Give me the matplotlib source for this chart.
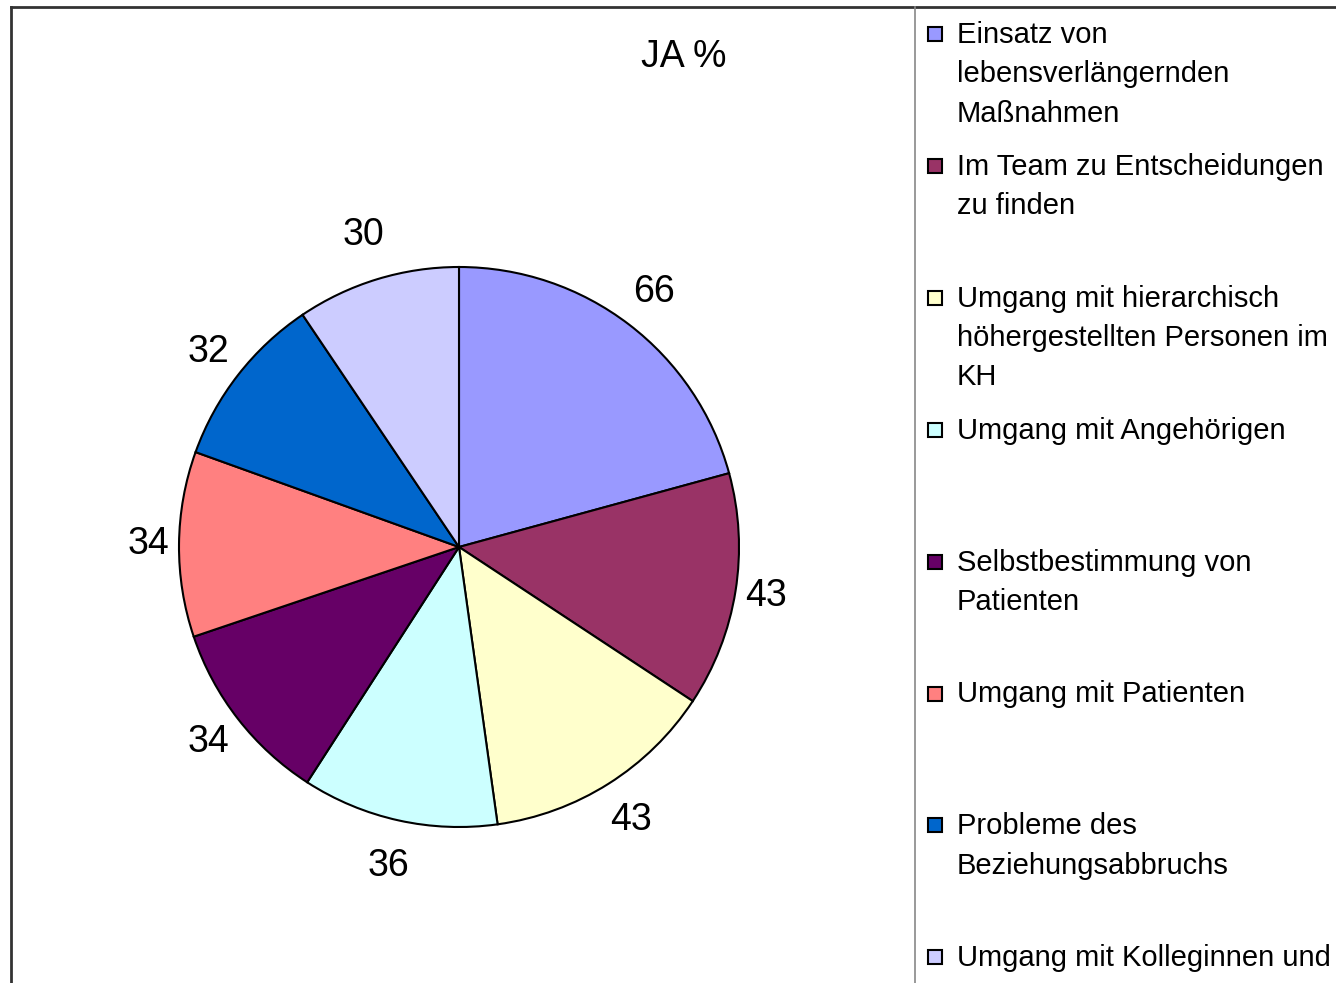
import numpy as np
import matplotlib.pyplot as plt
from matplotlib.patches import Rectangle
from matplotlib.lines import Line2D

plt.rcParams['font.family'] = ['Liberation Sans', 'DejaVu Sans']

# ---------------------------------------------------------------------
# Data
# ---------------------------------------------------------------------
categories = [
    "Einsatz von\nlebensverlängernden\nMaßnahmen",
    "Im Team zu Entscheidungen\nzu finden",
    "Umgang mit hierarchisch\nhöhergestellten Personen im\nKH",
    "Umgang mit Angehörigen",
    "Selbstbestimmung von\nPatienten",
    "Umgang mit Patienten",
    "Probleme des\nBeziehungsabbruchs",
    "Umgang mit Kolleginnen und\nKollegen",
]
values = [66, 43, 43, 36, 34, 34, 32, 30]
colors = ["#9999FF", "#993366", "#FFFFCC", "#CCFFFF",
          "#660066", "#FF8080", "#0066CC", "#CCCCFF"]
title = "JA %"

# ---------------------------------------------------------------------
# Figure
# ---------------------------------------------------------------------
W, H = 1336, 983
fig = plt.figure(figsize=(W / 100, H / 100), dpi=100)

cx, cy, r = 459, 547, 280      # pie centre / radius in pixels
half = 330
ax = fig.add_axes([(cx - half) / W, 1 - (cy + half) / H, 2 * half / W, 2 * half / H])

wedges, _ = ax.pie(values, colors=colors, startangle=90, counterclock=False,
                   radius=1.0, wedgeprops=dict(edgecolor="black", linewidth=1.5))

# value labels: a bit closer to the pie at the sides than at top/bottom
for w, v in zip(wedges, values):
    ang = np.deg2rad((w.theta1 + w.theta2) / 2)
    d = 1.17 - 0.06 * np.cos(ang) ** 2
    ax.text(d * np.cos(ang), d * np.sin(ang), str(v), fontsize=27,
            ha="center", va="center")

# pie() resets the limits, so set them afterwards
ax.set_xlim(-half / r, half / r)
ax.set_ylim(-half / r, half / r)
ax.set_aspect("equal")
ax.axis("off")

fig.text(684 / W, 1 - 57 / H, title, fontsize=27, ha="center", va="center")

# frame lines (chart border + legend separator)
fig.add_artist(Line2D([11 / W, 11 / W], [0, 1 - 7 / H], color="#333333", lw=2))
fig.add_artist(Line2D([11 / W, 1], [1 - 7 / H, 1 - 7 / H], color="#333333", lw=2))
fig.add_artist(Line2D([915 / W, 915 / W], [0, 1 - 7 / H], color="#888888", lw=1.2))

# ---------------------------------------------------------------------
# Legend (drawn by hand, fixed slot per entry)
# ---------------------------------------------------------------------
y0, step, line_h = 35, 131.9, 39.3
for i, (lab, col) in enumerate(zip(categories, colors)):
    y = y0 + i * step
    fig.add_artist(Rectangle((928 / W, 1 - (y + 6) / H), 14 / W, 14 / H,
                             facecolor=col, edgecolor="black", lw=1.5,
                             transform=fig.transFigure))
    for k, line in enumerate(lab.split("\n")):
        fig.text(957 / W, 1 - (y + k * line_h) / H, line, fontsize=21,
                 ha="left", va="center")

fig.savefig("out.png", dpi=100)
